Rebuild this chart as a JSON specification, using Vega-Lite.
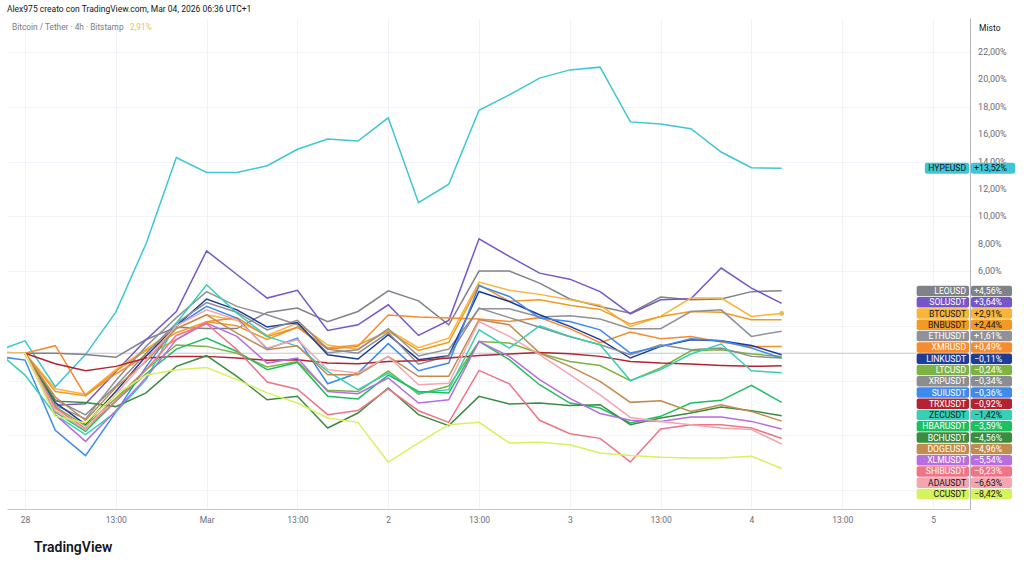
{
"$schema": "https://vega.github.io/schema/vega-lite/v6.json",
"width": 963, "height": 491,
"autosize": {"type": "none"},
"padding": {"left": 7, "top": 18, "right": 54, "bottom": 59},
"background": "#ffffff",
"config": {"view": {"stroke": null}, "font": "Roboto", "text": {"font": "Roboto"}},
"data": {"format": {"parse": {"t": "date"}}, "values": [
{"s":"HYPEUSD","t":"2026-02-27T20:00Z","v":0.1},{"s":"HYPEUSD","t":"2026-02-28T00:00Z","v":0.9},{"s":"HYPEUSD","t":"2026-02-28T04:00Z","v":-2.45},{"s":"HYPEUSD","t":"2026-02-28T08:00Z","v":-0.1},{"s":"HYPEUSD","t":"2026-02-28T12:00Z","v":3.0},{"s":"HYPEUSD","t":"2026-02-28T16:00Z","v":8.0},{"s":"HYPEUSD","t":"2026-02-28T20:00Z","v":14.3},{"s":"HYPEUSD","t":"2026-03-01T00:00Z","v":13.2},{"s":"HYPEUSD","t":"2026-03-01T04:00Z","v":13.2},{"s":"HYPEUSD","t":"2026-03-01T08:00Z","v":13.7},{"s":"HYPEUSD","t":"2026-03-01T12:00Z","v":14.9},{"s":"HYPEUSD","t":"2026-03-01T16:00Z","v":15.65},{"s":"HYPEUSD","t":"2026-03-01T20:00Z","v":15.5},{"s":"HYPEUSD","t":"2026-03-02T00:00Z","v":17.2},{"s":"HYPEUSD","t":"2026-03-02T04:00Z","v":11.0},{"s":"HYPEUSD","t":"2026-03-02T08:00Z","v":12.35},{"s":"HYPEUSD","t":"2026-03-02T12:00Z","v":17.75},{"s":"HYPEUSD","t":"2026-03-02T16:00Z","v":18.87},{"s":"HYPEUSD","t":"2026-03-02T20:00Z","v":20.1},{"s":"HYPEUSD","t":"2026-03-03T00:00Z","v":20.7},{"s":"HYPEUSD","t":"2026-03-03T04:00Z","v":20.9},{"s":"HYPEUSD","t":"2026-03-03T08:00Z","v":16.9},{"s":"HYPEUSD","t":"2026-03-03T12:00Z","v":16.75},{"s":"HYPEUSD","t":"2026-03-03T16:00Z","v":16.4},{"s":"HYPEUSD","t":"2026-03-03T20:00Z","v":14.7},{"s":"HYPEUSD","t":"2026-03-04T00:00Z","v":13.55},{"s":"HYPEUSD","t":"2026-03-04T04:00Z","v":13.52},
{"s":"LEOUSD","t":"2026-02-27T20:00Z","v":0.05},{"s":"LEOUSD","t":"2026-02-28T00:00Z","v":0.0},{"s":"LEOUSD","t":"2026-02-28T04:00Z","v":0.0},{"s":"LEOUSD","t":"2026-02-28T08:00Z","v":-0.1},{"s":"LEOUSD","t":"2026-02-28T12:00Z","v":-0.3},{"s":"LEOUSD","t":"2026-02-28T16:00Z","v":1.0},{"s":"LEOUSD","t":"2026-02-28T20:00Z","v":1.9},{"s":"LEOUSD","t":"2026-03-01T00:00Z","v":1.8},{"s":"LEOUSD","t":"2026-03-01T04:00Z","v":1.8},{"s":"LEOUSD","t":"2026-03-01T08:00Z","v":2.98},{"s":"LEOUSD","t":"2026-03-01T12:00Z","v":3.3},{"s":"LEOUSD","t":"2026-03-01T16:00Z","v":2.3},{"s":"LEOUSD","t":"2026-03-01T20:00Z","v":3.05},{"s":"LEOUSD","t":"2026-03-02T00:00Z","v":4.56},{"s":"LEOUSD","t":"2026-03-02T04:00Z","v":3.83},{"s":"LEOUSD","t":"2026-03-02T08:00Z","v":2.08},{"s":"LEOUSD","t":"2026-03-02T12:00Z","v":6.0},{"s":"LEOUSD","t":"2026-03-02T16:00Z","v":6.0},{"s":"LEOUSD","t":"2026-03-02T20:00Z","v":5.12},{"s":"LEOUSD","t":"2026-03-03T00:00Z","v":3.96},{"s":"LEOUSD","t":"2026-03-03T04:00Z","v":3.42},{"s":"LEOUSD","t":"2026-03-03T08:00Z","v":2.93},{"s":"LEOUSD","t":"2026-03-03T12:00Z","v":4.1},{"s":"LEOUSD","t":"2026-03-03T16:00Z","v":3.9},{"s":"LEOUSD","t":"2026-03-03T20:00Z","v":3.96},{"s":"LEOUSD","t":"2026-03-04T00:00Z","v":4.5},{"s":"LEOUSD","t":"2026-03-04T04:00Z","v":4.56},
{"s":"SOLUSDT","t":"2026-02-27T20:00Z","v":0.1},{"s":"SOLUSDT","t":"2026-02-28T00:00Z","v":0.0},{"s":"SOLUSDT","t":"2026-02-28T04:00Z","v":-3.8},{"s":"SOLUSDT","t":"2026-02-28T08:00Z","v":-3.7},{"s":"SOLUSDT","t":"2026-02-28T12:00Z","v":-1.35},{"s":"SOLUSDT","t":"2026-02-28T16:00Z","v":0.99},{"s":"SOLUSDT","t":"2026-02-28T20:00Z","v":3.05},{"s":"SOLUSDT","t":"2026-03-01T00:00Z","v":7.48},{"s":"SOLUSDT","t":"2026-03-01T04:00Z","v":5.75},{"s":"SOLUSDT","t":"2026-03-01T08:00Z","v":4.03},{"s":"SOLUSDT","t":"2026-03-01T12:00Z","v":4.6},{"s":"SOLUSDT","t":"2026-03-01T16:00Z","v":1.66},{"s":"SOLUSDT","t":"2026-03-01T20:00Z","v":2.08},{"s":"SOLUSDT","t":"2026-03-02T00:00Z","v":3.54},{"s":"SOLUSDT","t":"2026-03-02T04:00Z","v":1.3},{"s":"SOLUSDT","t":"2026-03-02T08:00Z","v":2.4},{"s":"SOLUSDT","t":"2026-03-02T12:00Z","v":8.36},{"s":"SOLUSDT","t":"2026-03-02T16:00Z","v":7.07},{"s":"SOLUSDT","t":"2026-03-02T20:00Z","v":5.85},{"s":"SOLUSDT","t":"2026-03-03T00:00Z","v":5.41},{"s":"SOLUSDT","t":"2026-03-03T04:00Z","v":4.5},{"s":"SOLUSDT","t":"2026-03-03T08:00Z","v":2.88},{"s":"SOLUSDT","t":"2026-03-03T12:00Z","v":3.9},{"s":"SOLUSDT","t":"2026-03-03T16:00Z","v":3.98},{"s":"SOLUSDT","t":"2026-03-03T20:00Z","v":6.22},{"s":"SOLUSDT","t":"2026-03-04T00:00Z","v":4.76},{"s":"SOLUSDT","t":"2026-03-04T04:00Z","v":3.64},
{"s":"BTCUSDT","t":"2026-02-27T20:00Z","v":0.0},{"s":"BTCUSDT","t":"2026-02-28T00:00Z","v":0.0},{"s":"BTCUSDT","t":"2026-02-28T04:00Z","v":-2.6},{"s":"BTCUSDT","t":"2026-02-28T08:00Z","v":-3.0},{"s":"BTCUSDT","t":"2026-02-28T12:00Z","v":-1.2},{"s":"BTCUSDT","t":"2026-02-28T16:00Z","v":0.3},{"s":"BTCUSDT","t":"2026-02-28T20:00Z","v":1.8},{"s":"BTCUSDT","t":"2026-03-01T00:00Z","v":2.8},{"s":"BTCUSDT","t":"2026-03-01T04:00Z","v":2.4},{"s":"BTCUSDT","t":"2026-03-01T08:00Z","v":1.3},{"s":"BTCUSDT","t":"2026-03-01T12:00Z","v":2.2},{"s":"BTCUSDT","t":"2026-03-01T16:00Z","v":0.6},{"s":"BTCUSDT","t":"2026-03-01T20:00Z","v":0.3},{"s":"BTCUSDT","t":"2026-03-02T00:00Z","v":1.7},{"s":"BTCUSDT","t":"2026-03-02T04:00Z","v":0.4},{"s":"BTCUSDT","t":"2026-03-02T08:00Z","v":1.1},{"s":"BTCUSDT","t":"2026-03-02T12:00Z","v":5.2},{"s":"BTCUSDT","t":"2026-03-02T16:00Z","v":4.6},{"s":"BTCUSDT","t":"2026-03-02T20:00Z","v":4.3},{"s":"BTCUSDT","t":"2026-03-03T00:00Z","v":3.9},{"s":"BTCUSDT","t":"2026-03-03T04:00Z","v":3.5},{"s":"BTCUSDT","t":"2026-03-03T08:00Z","v":1.96},{"s":"BTCUSDT","t":"2026-03-03T12:00Z","v":2.69},{"s":"BTCUSDT","t":"2026-03-03T16:00Z","v":4.03},{"s":"BTCUSDT","t":"2026-03-03T20:00Z","v":4.03},{"s":"BTCUSDT","t":"2026-03-04T00:00Z","v":2.69},{"s":"BTCUSDT","t":"2026-03-04T04:00Z","v":2.91},
{"s":"BNBUSDT","t":"2026-02-27T20:00Z","v":0.0},{"s":"BNBUSDT","t":"2026-02-28T00:00Z","v":0.0},{"s":"BNBUSDT","t":"2026-02-28T04:00Z","v":-2.8},{"s":"BNBUSDT","t":"2026-02-28T08:00Z","v":-3.1},{"s":"BNBUSDT","t":"2026-02-28T12:00Z","v":-1.3},{"s":"BNBUSDT","t":"2026-02-28T16:00Z","v":0.2},{"s":"BNBUSDT","t":"2026-02-28T20:00Z","v":1.5},{"s":"BNBUSDT","t":"2026-03-01T00:00Z","v":2.3},{"s":"BNBUSDT","t":"2026-03-01T04:00Z","v":2.0},{"s":"BNBUSDT","t":"2026-03-01T08:00Z","v":1.0},{"s":"BNBUSDT","t":"2026-03-01T12:00Z","v":1.9},{"s":"BNBUSDT","t":"2026-03-01T16:00Z","v":0.4},{"s":"BNBUSDT","t":"2026-03-01T20:00Z","v":0.6},{"s":"BNBUSDT","t":"2026-03-02T00:00Z","v":1.6},{"s":"BNBUSDT","t":"2026-03-02T04:00Z","v":0.2},{"s":"BNBUSDT","t":"2026-03-02T08:00Z","v":0.8},{"s":"BNBUSDT","t":"2026-03-02T12:00Z","v":5.0},{"s":"BNBUSDT","t":"2026-03-02T16:00Z","v":3.8},{"s":"BNBUSDT","t":"2026-03-02T20:00Z","v":3.9},{"s":"BNBUSDT","t":"2026-03-03T00:00Z","v":3.5},{"s":"BNBUSDT","t":"2026-03-03T04:00Z","v":3.2},{"s":"BNBUSDT","t":"2026-03-03T08:00Z","v":2.13},{"s":"BNBUSDT","t":"2026-03-03T12:00Z","v":2.69},{"s":"BNBUSDT","t":"2026-03-03T16:00Z","v":3.05},{"s":"BNBUSDT","t":"2026-03-03T20:00Z","v":3.0},{"s":"BNBUSDT","t":"2026-03-04T00:00Z","v":2.44},{"s":"BNBUSDT","t":"2026-03-04T04:00Z","v":2.44},
{"s":"ETHUSDT","t":"2026-02-27T20:00Z","v":0.0},{"s":"ETHUSDT","t":"2026-02-28T00:00Z","v":0.0},{"s":"ETHUSDT","t":"2026-02-28T04:00Z","v":-3.8},{"s":"ETHUSDT","t":"2026-02-28T08:00Z","v":-4.8},{"s":"ETHUSDT","t":"2026-02-28T12:00Z","v":-2.0},{"s":"ETHUSDT","t":"2026-02-28T16:00Z","v":0.5},{"s":"ETHUSDT","t":"2026-02-28T20:00Z","v":2.6},{"s":"ETHUSDT","t":"2026-03-01T00:00Z","v":4.5},{"s":"ETHUSDT","t":"2026-03-01T04:00Z","v":3.42},{"s":"ETHUSDT","t":"2026-03-01T08:00Z","v":2.81},{"s":"ETHUSDT","t":"2026-03-01T12:00Z","v":2.08},{"s":"ETHUSDT","t":"2026-03-01T16:00Z","v":0.04},{"s":"ETHUSDT","t":"2026-03-01T20:00Z","v":0.26},{"s":"ETHUSDT","t":"2026-03-02T00:00Z","v":1.8},{"s":"ETHUSDT","t":"2026-03-02T04:00Z","v":-0.2},{"s":"ETHUSDT","t":"2026-03-02T08:00Z","v":0.3},{"s":"ETHUSDT","t":"2026-03-02T12:00Z","v":3.25},{"s":"ETHUSDT","t":"2026-03-02T16:00Z","v":3.25},{"s":"ETHUSDT","t":"2026-03-02T20:00Z","v":2.64},{"s":"ETHUSDT","t":"2026-03-03T00:00Z","v":2.74},{"s":"ETHUSDT","t":"2026-03-03T04:00Z","v":2.5},{"s":"ETHUSDT","t":"2026-03-03T08:00Z","v":1.79},{"s":"ETHUSDT","t":"2026-03-03T12:00Z","v":1.79},{"s":"ETHUSDT","t":"2026-03-03T16:00Z","v":3.05},{"s":"ETHUSDT","t":"2026-03-03T20:00Z","v":3.17},{"s":"ETHUSDT","t":"2026-03-04T00:00Z","v":1.23},{"s":"ETHUSDT","t":"2026-03-04T04:00Z","v":1.61},
{"s":"XMRUSD","t":"2026-02-27T20:00Z","v":0.0},{"s":"XMRUSD","t":"2026-02-28T00:00Z","v":0.0},{"s":"XMRUSD","t":"2026-02-28T04:00Z","v":0.55},{"s":"XMRUSD","t":"2026-02-28T08:00Z","v":-3.1},{"s":"XMRUSD","t":"2026-02-28T12:00Z","v":-1.5},{"s":"XMRUSD","t":"2026-02-28T16:00Z","v":-0.2},{"s":"XMRUSD","t":"2026-02-28T20:00Z","v":1.0},{"s":"XMRUSD","t":"2026-03-01T00:00Z","v":2.3},{"s":"XMRUSD","t":"2026-03-01T04:00Z","v":2.6},{"s":"XMRUSD","t":"2026-03-01T08:00Z","v":1.2},{"s":"XMRUSD","t":"2026-03-01T12:00Z","v":1.9},{"s":"XMRUSD","t":"2026-03-01T16:00Z","v":0.3},{"s":"XMRUSD","t":"2026-03-01T20:00Z","v":0.5},{"s":"XMRUSD","t":"2026-03-02T00:00Z","v":2.8},{"s":"XMRUSD","t":"2026-03-02T04:00Z","v":2.64},{"s":"XMRUSD","t":"2026-03-02T08:00Z","v":2.57},{"s":"XMRUSD","t":"2026-03-02T12:00Z","v":2.5},{"s":"XMRUSD","t":"2026-03-02T16:00Z","v":2.32},{"s":"XMRUSD","t":"2026-03-02T20:00Z","v":2.6},{"s":"XMRUSD","t":"2026-03-03T00:00Z","v":1.8},{"s":"XMRUSD","t":"2026-03-03T04:00Z","v":0.77},{"s":"XMRUSD","t":"2026-03-03T08:00Z","v":1.55},{"s":"XMRUSD","t":"2026-03-03T12:00Z","v":1.06},{"s":"XMRUSD","t":"2026-03-03T16:00Z","v":1.23},{"s":"XMRUSD","t":"2026-03-03T20:00Z","v":0.82},{"s":"XMRUSD","t":"2026-03-04T00:00Z","v":0.5},{"s":"XMRUSD","t":"2026-03-04T04:00Z","v":0.49},
{"s":"LINKUSDT","t":"2026-02-27T20:00Z","v":0.0},{"s":"LINKUSDT","t":"2026-02-28T00:00Z","v":0.0},{"s":"LINKUSDT","t":"2026-02-28T04:00Z","v":-3.6},{"s":"LINKUSDT","t":"2026-02-28T08:00Z","v":-5.2},{"s":"LINKUSDT","t":"2026-02-28T12:00Z","v":-2.8},{"s":"LINKUSDT","t":"2026-02-28T16:00Z","v":-0.2},{"s":"LINKUSDT","t":"2026-02-28T20:00Z","v":2.0},{"s":"LINKUSDT","t":"2026-03-01T00:00Z","v":3.96},{"s":"LINKUSDT","t":"2026-03-01T04:00Z","v":3.17},{"s":"LINKUSDT","t":"2026-03-01T08:00Z","v":1.91},{"s":"LINKUSDT","t":"2026-03-01T12:00Z","v":2.25},{"s":"LINKUSDT","t":"2026-03-01T16:00Z","v":-0.11},{"s":"LINKUSDT","t":"2026-03-01T20:00Z","v":-0.42},{"s":"LINKUSDT","t":"2026-03-02T00:00Z","v":1.35},{"s":"LINKUSDT","t":"2026-03-02T04:00Z","v":-0.47},{"s":"LINKUSDT","t":"2026-03-02T08:00Z","v":-0.18},{"s":"LINKUSDT","t":"2026-03-02T12:00Z","v":4.51},{"s":"LINKUSDT","t":"2026-03-02T16:00Z","v":3.78},{"s":"LINKUSDT","t":"2026-03-02T20:00Z","v":2.81},{"s":"LINKUSDT","t":"2026-03-03T00:00Z","v":1.96},{"s":"LINKUSDT","t":"2026-03-03T04:00Z","v":0.99},{"s":"LINKUSDT","t":"2026-03-03T08:00Z","v":-0.35},{"s":"LINKUSDT","t":"2026-03-03T12:00Z","v":0.5},{"s":"LINKUSDT","t":"2026-03-03T16:00Z","v":0.99},{"s":"LINKUSDT","t":"2026-03-03T20:00Z","v":0.91},{"s":"LINKUSDT","t":"2026-03-04T00:00Z","v":0.57},{"s":"LINKUSDT","t":"2026-03-04T04:00Z","v":-0.11},
{"s":"LTCUSD","t":"2026-02-27T20:00Z","v":0.0},{"s":"LTCUSD","t":"2026-02-28T00:00Z","v":0.0},{"s":"LTCUSD","t":"2026-02-28T04:00Z","v":-3.9},{"s":"LTCUSD","t":"2026-02-28T08:00Z","v":-5.3},{"s":"LTCUSD","t":"2026-02-28T12:00Z","v":-3.3},{"s":"LTCUSD","t":"2026-02-28T16:00Z","v":-1.2},{"s":"LTCUSD","t":"2026-02-28T20:00Z","v":0.6},{"s":"LTCUSD","t":"2026-03-01T00:00Z","v":0.5},{"s":"LTCUSD","t":"2026-03-01T04:00Z","v":0.0},{"s":"LTCUSD","t":"2026-03-01T08:00Z","v":-1.0},{"s":"LTCUSD","t":"2026-03-01T12:00Z","v":-0.6},{"s":"LTCUSD","t":"2026-03-01T16:00Z","v":-2.7},{"s":"LTCUSD","t":"2026-03-01T20:00Z","v":-2.8},{"s":"LTCUSD","t":"2026-03-02T00:00Z","v":-1.3},{"s":"LTCUSD","t":"2026-03-02T04:00Z","v":-3.0},{"s":"LTCUSD","t":"2026-03-02T08:00Z","v":-2.4},{"s":"LTCUSD","t":"2026-03-02T12:00Z","v":0.86},{"s":"LTCUSD","t":"2026-03-02T16:00Z","v":0.74},{"s":"LTCUSD","t":"2026-03-02T20:00Z","v":0.0},{"s":"LTCUSD","t":"2026-03-03T00:00Z","v":-0.6},{"s":"LTCUSD","t":"2026-03-03T04:00Z","v":-0.9},{"s":"LTCUSD","t":"2026-03-03T08:00Z","v":-2.0},{"s":"LTCUSD","t":"2026-03-03T12:00Z","v":-1.08},{"s":"LTCUSD","t":"2026-03-03T16:00Z","v":0.18},{"s":"LTCUSD","t":"2026-03-03T20:00Z","v":0.26},{"s":"LTCUSD","t":"2026-03-04T00:00Z","v":-0.06},{"s":"LTCUSD","t":"2026-03-04T04:00Z","v":-0.24},
{"s":"XRPUSDT","t":"2026-02-27T20:00Z","v":0.0},{"s":"XRPUSDT","t":"2026-02-28T00:00Z","v":0.0},{"s":"XRPUSDT","t":"2026-02-28T04:00Z","v":-3.4},{"s":"XRPUSDT","t":"2026-02-28T08:00Z","v":-4.5},{"s":"XRPUSDT","t":"2026-02-28T12:00Z","v":-2.4},{"s":"XRPUSDT","t":"2026-02-28T16:00Z","v":0.0},{"s":"XRPUSDT","t":"2026-02-28T20:00Z","v":2.2},{"s":"XRPUSDT","t":"2026-03-01T00:00Z","v":3.7},{"s":"XRPUSDT","t":"2026-03-01T04:00Z","v":3.0},{"s":"XRPUSDT","t":"2026-03-01T08:00Z","v":1.7},{"s":"XRPUSDT","t":"2026-03-01T12:00Z","v":2.4},{"s":"XRPUSDT","t":"2026-03-01T16:00Z","v":0.3},{"s":"XRPUSDT","t":"2026-03-01T20:00Z","v":0.0},{"s":"XRPUSDT","t":"2026-03-02T00:00Z","v":1.5},{"s":"XRPUSDT","t":"2026-03-02T04:00Z","v":-0.8},{"s":"XRPUSDT","t":"2026-03-02T08:00Z","v":-0.2},{"s":"XRPUSDT","t":"2026-03-02T12:00Z","v":3.3},{"s":"XRPUSDT","t":"2026-03-02T16:00Z","v":2.6},{"s":"XRPUSDT","t":"2026-03-02T20:00Z","v":1.9},{"s":"XRPUSDT","t":"2026-03-03T00:00Z","v":1.2},{"s":"XRPUSDT","t":"2026-03-03T04:00Z","v":0.62},{"s":"XRPUSDT","t":"2026-03-03T08:00Z","v":-0.11},{"s":"XRPUSDT","t":"2026-03-03T12:00Z","v":0.62},{"s":"XRPUSDT","t":"2026-03-03T16:00Z","v":0.26},{"s":"XRPUSDT","t":"2026-03-03T20:00Z","v":0.38},{"s":"XRPUSDT","t":"2026-03-04T00:00Z","v":-0.23},{"s":"XRPUSDT","t":"2026-03-04T04:00Z","v":-0.34},
{"s":"SUIUSDT","t":"2026-02-27T20:00Z","v":-0.2},{"s":"SUIUSDT","t":"2026-02-28T00:00Z","v":-0.5},{"s":"SUIUSDT","t":"2026-02-28T04:00Z","v":-5.63},{"s":"SUIUSDT","t":"2026-02-28T08:00Z","v":-7.48},{"s":"SUIUSDT","t":"2026-02-28T12:00Z","v":-4.3},{"s":"SUIUSDT","t":"2026-02-28T16:00Z","v":-1.0},{"s":"SUIUSDT","t":"2026-02-28T20:00Z","v":2.0},{"s":"SUIUSDT","t":"2026-03-01T00:00Z","v":3.42},{"s":"SUIUSDT","t":"2026-03-01T04:00Z","v":2.57},{"s":"SUIUSDT","t":"2026-03-01T08:00Z","v":0.31},{"s":"SUIUSDT","t":"2026-03-01T12:00Z","v":1.11},{"s":"SUIUSDT","t":"2026-03-01T16:00Z","v":-2.23},{"s":"SUIUSDT","t":"2026-03-01T20:00Z","v":-1.45},{"s":"SUIUSDT","t":"2026-03-02T00:00Z","v":0.7},{"s":"SUIUSDT","t":"2026-03-02T04:00Z","v":-1.28},{"s":"SUIUSDT","t":"2026-03-02T08:00Z","v":-0.72},{"s":"SUIUSDT","t":"2026-03-02T12:00Z","v":4.93},{"s":"SUIUSDT","t":"2026-03-02T16:00Z","v":4.15},{"s":"SUIUSDT","t":"2026-03-02T20:00Z","v":2.57},{"s":"SUIUSDT","t":"2026-03-03T00:00Z","v":2.32},{"s":"SUIUSDT","t":"2026-03-03T04:00Z","v":1.71},{"s":"SUIUSDT","t":"2026-03-03T08:00Z","v":0.01},{"s":"SUIUSDT","t":"2026-03-03T12:00Z","v":0.5},{"s":"SUIUSDT","t":"2026-03-03T16:00Z","v":1.06},{"s":"SUIUSDT","t":"2026-03-03T20:00Z","v":0.91},{"s":"SUIUSDT","t":"2026-03-04T00:00Z","v":0.38},{"s":"SUIUSDT","t":"2026-03-04T04:00Z","v":-0.36},
{"s":"TRXUSDT","t":"2026-02-27T20:00Z","v":0.0},{"s":"TRXUSDT","t":"2026-02-28T00:00Z","v":0.0},{"s":"TRXUSDT","t":"2026-02-28T04:00Z","v":-0.77},{"s":"TRXUSDT","t":"2026-02-28T08:00Z","v":-1.28},{"s":"TRXUSDT","t":"2026-02-28T12:00Z","v":-0.96},{"s":"TRXUSDT","t":"2026-02-28T16:00Z","v":-0.35},{"s":"TRXUSDT","t":"2026-02-28T20:00Z","v":-0.23},{"s":"TRXUSDT","t":"2026-03-01T00:00Z","v":-0.23},{"s":"TRXUSDT","t":"2026-03-01T04:00Z","v":-0.35},{"s":"TRXUSDT","t":"2026-03-01T08:00Z","v":-0.52},{"s":"TRXUSDT","t":"2026-03-01T12:00Z","v":-0.47},{"s":"TRXUSDT","t":"2026-03-01T16:00Z","v":-0.72},{"s":"TRXUSDT","t":"2026-03-01T20:00Z","v":-0.77},{"s":"TRXUSDT","t":"2026-03-02T00:00Z","v":-0.6},{"s":"TRXUSDT","t":"2026-03-02T04:00Z","v":-0.55},{"s":"TRXUSDT","t":"2026-03-02T08:00Z","v":-0.35},{"s":"TRXUSDT","t":"2026-03-02T12:00Z","v":-0.16},{"s":"TRXUSDT","t":"2026-03-02T16:00Z","v":-0.06},{"s":"TRXUSDT","t":"2026-03-02T20:00Z","v":0.06},{"s":"TRXUSDT","t":"2026-03-03T00:00Z","v":-0.04},{"s":"TRXUSDT","t":"2026-03-03T04:00Z","v":-0.23},{"s":"TRXUSDT","t":"2026-03-03T08:00Z","v":-0.6},{"s":"TRXUSDT","t":"2026-03-03T12:00Z","v":-0.72},{"s":"TRXUSDT","t":"2026-03-03T16:00Z","v":-0.79},{"s":"TRXUSDT","t":"2026-03-03T20:00Z","v":-0.89},{"s":"TRXUSDT","t":"2026-03-04T00:00Z","v":-0.96},{"s":"TRXUSDT","t":"2026-03-04T04:00Z","v":-0.92},
{"s":"ZECUSDT","t":"2026-02-27T20:00Z","v":0.3},{"s":"ZECUSDT","t":"2026-02-28T00:00Z","v":-1.6},{"s":"ZECUSDT","t":"2026-02-28T04:00Z","v":-4.5},{"s":"ZECUSDT","t":"2026-02-28T08:00Z","v":-5.95},{"s":"ZECUSDT","t":"2026-02-28T12:00Z","v":-4.3},{"s":"ZECUSDT","t":"2026-02-28T16:00Z","v":-1.93},{"s":"ZECUSDT","t":"2026-02-28T20:00Z","v":2.2},{"s":"ZECUSDT","t":"2026-03-01T00:00Z","v":5.0},{"s":"ZECUSDT","t":"2026-03-01T04:00Z","v":2.93},{"s":"ZECUSDT","t":"2026-03-01T08:00Z","v":1.23},{"s":"ZECUSDT","t":"2026-03-01T12:00Z","v":0.5},{"s":"ZECUSDT","t":"2026-03-01T16:00Z","v":-1.33},{"s":"ZECUSDT","t":"2026-03-01T20:00Z","v":-2.66},{"s":"ZECUSDT","t":"2026-03-02T00:00Z","v":-1.45},{"s":"ZECUSDT","t":"2026-03-02T04:00Z","v":-2.9},{"s":"ZECUSDT","t":"2026-03-02T08:00Z","v":-2.66},{"s":"ZECUSDT","t":"2026-03-02T12:00Z","v":1.71},{"s":"ZECUSDT","t":"2026-03-02T16:00Z","v":0.38},{"s":"ZECUSDT","t":"2026-03-02T20:00Z","v":2.0},{"s":"ZECUSDT","t":"2026-03-03T00:00Z","v":1.23},{"s":"ZECUSDT","t":"2026-03-03T04:00Z","v":0.62},{"s":"ZECUSDT","t":"2026-03-03T08:00Z","v":-2.0},{"s":"ZECUSDT","t":"2026-03-03T12:00Z","v":-1.2},{"s":"ZECUSDT","t":"2026-03-03T16:00Z","v":-0.06},{"s":"ZECUSDT","t":"2026-03-03T20:00Z","v":0.67},{"s":"ZECUSDT","t":"2026-03-04T00:00Z","v":-1.28},{"s":"ZECUSDT","t":"2026-03-04T04:00Z","v":-1.42},
{"s":"HBARUSDT","t":"2026-02-27T20:00Z","v":0.0},{"s":"HBARUSDT","t":"2026-02-28T00:00Z","v":0.0},{"s":"HBARUSDT","t":"2026-02-28T04:00Z","v":-4.3},{"s":"HBARUSDT","t":"2026-02-28T08:00Z","v":-5.7},{"s":"HBARUSDT","t":"2026-02-28T12:00Z","v":-3.5},{"s":"HBARUSDT","t":"2026-02-28T16:00Z","v":-1.5},{"s":"HBARUSDT","t":"2026-02-28T20:00Z","v":0.3},{"s":"HBARUSDT","t":"2026-03-01T00:00Z","v":1.11},{"s":"HBARUSDT","t":"2026-03-01T04:00Z","v":0.13},{"s":"HBARUSDT","t":"2026-03-01T08:00Z","v":-1.2},{"s":"HBARUSDT","t":"2026-03-01T12:00Z","v":-0.67},{"s":"HBARUSDT","t":"2026-03-01T16:00Z","v":-3.15},{"s":"HBARUSDT","t":"2026-03-01T20:00Z","v":-3.34},{"s":"HBARUSDT","t":"2026-03-02T00:00Z","v":-1.6},{"s":"HBARUSDT","t":"2026-03-02T04:00Z","v":-2.79},{"s":"HBARUSDT","t":"2026-03-02T08:00Z","v":-2.9},{"s":"HBARUSDT","t":"2026-03-02T12:00Z","v":0.86},{"s":"HBARUSDT","t":"2026-03-02T16:00Z","v":-0.47},{"s":"HBARUSDT","t":"2026-03-02T20:00Z","v":-2.3},{"s":"HBARUSDT","t":"2026-03-03T00:00Z","v":-3.64},{"s":"HBARUSDT","t":"2026-03-03T04:00Z","v":-4.0},{"s":"HBARUSDT","t":"2026-03-03T08:00Z","v":-5.1},{"s":"HBARUSDT","t":"2026-03-03T12:00Z","v":-4.61},{"s":"HBARUSDT","t":"2026-03-03T16:00Z","v":-3.64},{"s":"HBARUSDT","t":"2026-03-03T20:00Z","v":-3.44},{"s":"HBARUSDT","t":"2026-03-04T00:00Z","v":-2.35},{"s":"HBARUSDT","t":"2026-03-04T04:00Z","v":-3.59},
{"s":"BCHUSDT","t":"2026-02-27T20:00Z","v":0.0},{"s":"BCHUSDT","t":"2026-02-28T00:00Z","v":0.0},{"s":"BCHUSDT","t":"2026-02-28T04:00Z","v":-3.5},{"s":"BCHUSDT","t":"2026-02-28T08:00Z","v":-3.6},{"s":"BCHUSDT","t":"2026-02-28T12:00Z","v":-3.9},{"s":"BCHUSDT","t":"2026-02-28T16:00Z","v":-2.9},{"s":"BCHUSDT","t":"2026-02-28T20:00Z","v":-0.96},{"s":"BCHUSDT","t":"2026-03-01T00:00Z","v":-0.18},{"s":"BCHUSDT","t":"2026-03-01T04:00Z","v":-1.69},{"s":"BCHUSDT","t":"2026-03-01T08:00Z","v":-3.4},{"s":"BCHUSDT","t":"2026-03-01T12:00Z","v":-3.15},{"s":"BCHUSDT","t":"2026-03-01T16:00Z","v":-5.46},{"s":"BCHUSDT","t":"2026-03-01T20:00Z","v":-4.37},{"s":"BCHUSDT","t":"2026-03-02T00:00Z","v":-2.54},{"s":"BCHUSDT","t":"2026-03-02T04:00Z","v":-4.49},{"s":"BCHUSDT","t":"2026-03-02T08:00Z","v":-5.29},{"s":"BCHUSDT","t":"2026-03-02T12:00Z","v":-3.15},{"s":"BCHUSDT","t":"2026-03-02T16:00Z","v":-3.71},{"s":"BCHUSDT","t":"2026-03-02T20:00Z","v":-3.64},{"s":"BCHUSDT","t":"2026-03-03T00:00Z","v":-3.81},{"s":"BCHUSDT","t":"2026-03-03T04:00Z","v":-3.76},{"s":"BCHUSDT","t":"2026-03-03T08:00Z","v":-5.22},{"s":"BCHUSDT","t":"2026-03-03T12:00Z","v":-4.73},{"s":"BCHUSDT","t":"2026-03-03T16:00Z","v":-4.37},{"s":"BCHUSDT","t":"2026-03-03T20:00Z","v":-3.93},{"s":"BCHUSDT","t":"2026-03-04T00:00Z","v":-4.2},{"s":"BCHUSDT","t":"2026-03-04T04:00Z","v":-4.56},
{"s":"DOGEUSD","t":"2026-02-27T20:00Z","v":0.0},{"s":"DOGEUSD","t":"2026-02-28T00:00Z","v":0.0},{"s":"DOGEUSD","t":"2026-02-28T04:00Z","v":-3.2},{"s":"DOGEUSD","t":"2026-02-28T08:00Z","v":-4.9},{"s":"DOGEUSD","t":"2026-02-28T12:00Z","v":-2.5},{"s":"DOGEUSD","t":"2026-02-28T16:00Z","v":-0.6},{"s":"DOGEUSD","t":"2026-02-28T20:00Z","v":1.8},{"s":"DOGEUSD","t":"2026-03-01T00:00Z","v":2.8},{"s":"DOGEUSD","t":"2026-03-01T04:00Z","v":1.47},{"s":"DOGEUSD","t":"2026-03-01T08:00Z","v":0.26},{"s":"DOGEUSD","t":"2026-03-01T12:00Z","v":0.55},{"s":"DOGEUSD","t":"2026-03-01T16:00Z","v":-1.57},{"s":"DOGEUSD","t":"2026-03-01T20:00Z","v":-1.57},{"s":"DOGEUSD","t":"2026-03-02T00:00Z","v":-0.23},{"s":"DOGEUSD","t":"2026-03-02T04:00Z","v":-1.69},{"s":"DOGEUSD","t":"2026-03-02T08:00Z","v":-1.69},{"s":"DOGEUSD","t":"2026-03-02T12:00Z","v":2.45},{"s":"DOGEUSD","t":"2026-03-02T16:00Z","v":2.08},{"s":"DOGEUSD","t":"2026-03-02T20:00Z","v":0.01},{"s":"DOGEUSD","t":"2026-03-03T00:00Z","v":-0.96},{"s":"DOGEUSD","t":"2026-03-03T04:00Z","v":-2.06},{"s":"DOGEUSD","t":"2026-03-03T08:00Z","v":-3.59},{"s":"DOGEUSD","t":"2026-03-03T12:00Z","v":-3.47},{"s":"DOGEUSD","t":"2026-03-03T16:00Z","v":-4.25},{"s":"DOGEUSD","t":"2026-03-03T20:00Z","v":-3.76},{"s":"DOGEUSD","t":"2026-03-04T00:00Z","v":-4.25},{"s":"DOGEUSD","t":"2026-03-04T04:00Z","v":-4.96},
{"s":"XLMUSDT","t":"2026-02-27T20:00Z","v":0.0},{"s":"XLMUSDT","t":"2026-02-28T00:00Z","v":0.0},{"s":"XLMUSDT","t":"2026-02-28T04:00Z","v":-4.5},{"s":"XLMUSDT","t":"2026-02-28T08:00Z","v":-6.44},{"s":"XLMUSDT","t":"2026-02-28T12:00Z","v":-4.2},{"s":"XLMUSDT","t":"2026-02-28T16:00Z","v":-1.8},{"s":"XLMUSDT","t":"2026-02-28T20:00Z","v":1.0},{"s":"XLMUSDT","t":"2026-03-01T00:00Z","v":2.2},{"s":"XLMUSDT","t":"2026-03-01T04:00Z","v":1.23},{"s":"XLMUSDT","t":"2026-03-01T08:00Z","v":-0.72},{"s":"XLMUSDT","t":"2026-03-01T12:00Z","v":-0.35},{"s":"XLMUSDT","t":"2026-03-01T16:00Z","v":-2.79},{"s":"XLMUSDT","t":"2026-03-01T20:00Z","v":-2.96},{"s":"XLMUSDT","t":"2026-03-02T00:00Z","v":-1.81},{"s":"XLMUSDT","t":"2026-03-02T04:00Z","v":-3.64},{"s":"XLMUSDT","t":"2026-03-02T08:00Z","v":-3.4},{"s":"XLMUSDT","t":"2026-03-02T12:00Z","v":0.86},{"s":"XLMUSDT","t":"2026-03-02T16:00Z","v":-0.23},{"s":"XLMUSDT","t":"2026-03-02T20:00Z","v":-1.93},{"s":"XLMUSDT","t":"2026-03-03T00:00Z","v":-3.3},{"s":"XLMUSDT","t":"2026-03-03T04:00Z","v":-4.4},{"s":"XLMUSDT","t":"2026-03-03T08:00Z","v":-4.9},{"s":"XLMUSDT","t":"2026-03-03T12:00Z","v":-4.98},{"s":"XLMUSDT","t":"2026-03-03T16:00Z","v":-4.66},{"s":"XLMUSDT","t":"2026-03-03T20:00Z","v":-4.66},{"s":"XLMUSDT","t":"2026-03-04T00:00Z","v":-4.98},{"s":"XLMUSDT","t":"2026-03-04T04:00Z","v":-5.54},
{"s":"SHIBUSDT","t":"2026-02-27T20:00Z","v":0.0},{"s":"SHIBUSDT","t":"2026-02-28T00:00Z","v":0.0},{"s":"SHIBUSDT","t":"2026-02-28T04:00Z","v":-4.0},{"s":"SHIBUSDT","t":"2026-02-28T08:00Z","v":-5.5},{"s":"SHIBUSDT","t":"2026-02-28T12:00Z","v":-3.5},{"s":"SHIBUSDT","t":"2026-02-28T16:00Z","v":-1.2},{"s":"SHIBUSDT","t":"2026-02-28T20:00Z","v":1.3},{"s":"SHIBUSDT","t":"2026-03-01T00:00Z","v":2.15},{"s":"SHIBUSDT","t":"2026-03-01T04:00Z","v":0.26},{"s":"SHIBUSDT","t":"2026-03-01T08:00Z","v":-2.1},{"s":"SHIBUSDT","t":"2026-03-01T12:00Z","v":-2.63},{"s":"SHIBUSDT","t":"2026-03-01T16:00Z","v":-4.49},{"s":"SHIBUSDT","t":"2026-03-01T20:00Z","v":-4.19},{"s":"SHIBUSDT","t":"2026-03-02T00:00Z","v":-2.6},{"s":"SHIBUSDT","t":"2026-03-02T04:00Z","v":-4.2},{"s":"SHIBUSDT","t":"2026-03-02T08:00Z","v":-5.05},{"s":"SHIBUSDT","t":"2026-03-02T12:00Z","v":-1.25},{"s":"SHIBUSDT","t":"2026-03-02T16:00Z","v":-2.23},{"s":"SHIBUSDT","t":"2026-03-02T20:00Z","v":-4.9},{"s":"SHIBUSDT","t":"2026-03-03T00:00Z","v":-5.88},{"s":"SHIBUSDT","t":"2026-03-03T04:00Z","v":-6.22},{"s":"SHIBUSDT","t":"2026-03-03T08:00Z","v":-7.94},{"s":"SHIBUSDT","t":"2026-03-03T12:00Z","v":-5.53},{"s":"SHIBUSDT","t":"2026-03-03T16:00Z","v":-5.22},{"s":"SHIBUSDT","t":"2026-03-03T20:00Z","v":-5.22},{"s":"SHIBUSDT","t":"2026-03-04T00:00Z","v":-5.46},{"s":"SHIBUSDT","t":"2026-03-04T04:00Z","v":-6.23},
{"s":"ADAUSDT","t":"2026-02-27T20:00Z","v":0.0},{"s":"ADAUSDT","t":"2026-02-28T00:00Z","v":0.0},{"s":"ADAUSDT","t":"2026-02-28T04:00Z","v":-4.2},{"s":"ADAUSDT","t":"2026-02-28T08:00Z","v":-5.6},{"s":"ADAUSDT","t":"2026-02-28T12:00Z","v":-3.0},{"s":"ADAUSDT","t":"2026-02-28T16:00Z","v":-0.5},{"s":"ADAUSDT","t":"2026-02-28T20:00Z","v":2.0},{"s":"ADAUSDT","t":"2026-03-01T00:00Z","v":3.17},{"s":"ADAUSDT","t":"2026-03-01T04:00Z","v":2.45},{"s":"ADAUSDT","t":"2026-03-01T08:00Z","v":0.38},{"s":"ADAUSDT","t":"2026-03-01T12:00Z","v":0.99},{"s":"ADAUSDT","t":"2026-03-01T16:00Z","v":-1.2},{"s":"ADAUSDT","t":"2026-03-01T20:00Z","v":-1.45},{"s":"ADAUSDT","t":"2026-03-02T00:00Z","v":-0.23},{"s":"ADAUSDT","t":"2026-03-02T04:00Z","v":-2.3},{"s":"ADAUSDT","t":"2026-03-02T08:00Z","v":-2.2},{"s":"ADAUSDT","t":"2026-03-02T12:00Z","v":2.32},{"s":"ADAUSDT","t":"2026-03-02T16:00Z","v":1.23},{"s":"ADAUSDT","t":"2026-03-02T20:00Z","v":-0.11},{"s":"ADAUSDT","t":"2026-03-03T00:00Z","v":-1.57},{"s":"ADAUSDT","t":"2026-03-03T04:00Z","v":-3.05},{"s":"ADAUSDT","t":"2026-03-03T08:00Z","v":-4.69},{"s":"ADAUSDT","t":"2026-03-03T12:00Z","v":-4.98},{"s":"ADAUSDT","t":"2026-03-03T16:00Z","v":-5.22},{"s":"ADAUSDT","t":"2026-03-03T20:00Z","v":-5.46},{"s":"ADAUSDT","t":"2026-03-04T00:00Z","v":-5.58},{"s":"ADAUSDT","t":"2026-03-04T04:00Z","v":-6.63},
{"s":"CCUSDT","t":"2026-02-27T20:00Z","v":0.0},{"s":"CCUSDT","t":"2026-02-28T00:00Z","v":0.0},{"s":"CCUSDT","t":"2026-02-28T04:00Z","v":-4.6},{"s":"CCUSDT","t":"2026-02-28T08:00Z","v":-5.1},{"s":"CCUSDT","t":"2026-02-28T12:00Z","v":-3.0},{"s":"CCUSDT","t":"2026-02-28T16:00Z","v":-1.6},{"s":"CCUSDT","t":"2026-02-28T20:00Z","v":-1.2},{"s":"CCUSDT","t":"2026-03-01T00:00Z","v":-1.05},{"s":"CCUSDT","t":"2026-03-01T04:00Z","v":-1.93},{"s":"CCUSDT","t":"2026-03-01T08:00Z","v":-2.9},{"s":"CCUSDT","t":"2026-03-01T12:00Z","v":-3.64},{"s":"CCUSDT","t":"2026-03-01T16:00Z","v":-4.73},{"s":"CCUSDT","t":"2026-03-01T20:00Z","v":-5.05},{"s":"CCUSDT","t":"2026-03-02T00:00Z","v":-7.97},{"s":"CCUSDT","t":"2026-03-02T04:00Z","v":-6.55},{"s":"CCUSDT","t":"2026-03-02T08:00Z","v":-5.22},{"s":"CCUSDT","t":"2026-03-02T12:00Z","v":-5.05},{"s":"CCUSDT","t":"2026-03-02T16:00Z","v":-6.55},{"s":"CCUSDT","t":"2026-03-02T20:00Z","v":-6.5},{"s":"CCUSDT","t":"2026-03-03T00:00Z","v":-6.68},{"s":"CCUSDT","t":"2026-03-03T04:00Z","v":-7.29},{"s":"CCUSDT","t":"2026-03-03T08:00Z","v":-7.48},{"s":"CCUSDT","t":"2026-03-03T12:00Z","v":-7.6},{"s":"CCUSDT","t":"2026-03-03T16:00Z","v":-7.65},{"s":"CCUSDT","t":"2026-03-03T20:00Z","v":-7.65},{"s":"CCUSDT","t":"2026-03-04T00:00Z","v":-7.53},{"s":"CCUSDT","t":"2026-03-04T04:00Z","v":-8.42}
]},
"layer": [
{
"layer": [
{"data": {"values": [{}]},
 "mark": {"type": "rule", "color": "#c3c6cd", "strokeWidth": 1},
 "encoding": {"y": {"datum": 0, "type": "quantitative"}}},
{"mark": {"type": "line", "strokeWidth": 1.5, "clip": true},
 "encoding": {
  "x": {"field": "t", "type": "temporal",
   "scale": {"type": "utc", "domain": [{"year": 2026, "month": 2, "date": 27, "hours": 21, "minutes": 37, "seconds": 17, "utc": true}, {"year": 2026, "month": 3, "date": 5, "hours": 4, "minutes": 53, "utc": true}]},
   "axis": {"orient": "bottom", "title": null, "grid": true, "gridColor": "#f0f3fa", "domainColor": "#c5c8ce", "ticks": false, "labelColor": "#6a6d78", "labelFontSize": 8.5, "labelPadding": 6, "labelFont": "Roboto", "labelOverlap": false,
    "values": [{"year": 2026, "month": 2, "date": 28, "hours": 0, "utc": true}, {"year": 2026, "month": 2, "date": 28, "hours": 12, "utc": true}, {"year": 2026, "month": 3, "date": 1, "hours": 0, "utc": true}, {"year": 2026, "month": 3, "date": 1, "hours": 12, "utc": true}, {"year": 2026, "month": 3, "date": 2, "hours": 0, "utc": true}, {"year": 2026, "month": 3, "date": 2, "hours": 12, "utc": true}, {"year": 2026, "month": 3, "date": 3, "hours": 0, "utc": true}, {"year": 2026, "month": 3, "date": 3, "hours": 12, "utc": true}, {"year": 2026, "month": 3, "date": 4, "hours": 0, "utc": true}, {"year": 2026, "month": 3, "date": 4, "hours": 12, "utc": true}, {"year": 2026, "month": 3, "date": 5, "hours": 0, "utc": true}],
    "labelExpr": "utchours(datum.value) == 12 ? '13:00' : (utcdate(datum.value) == 1 ? 'Mar' : '' + utcdate(datum.value))"}},
  "y": {"field": "v", "type": "quantitative",
   "scale": {"domain": [-11.38, 24.49], "nice": false, "zero": false},
   "axis": {"orient": "right", "title": null, "grid": true, "gridColor": "#f0f3fa", "domainColor": "#b2b5be", "ticks": false, "labels": false,
    "values": [-10, -8, -6, -4, -2, 0, 2, 4, 6, 8, 10, 12, 14, 16, 18, 20, 22]}},
  "color": {"field": "s", "type": "nominal", "legend": null,
   "scale": {"domain": ["HYPEUSD", "LEOUSD", "SOLUSDT", "BTCUSDT", "BNBUSDT", "ETHUSDT", "XMRUSD", "LINKUSDT", "LTCUSD", "XRPUSDT", "SUIUSDT", "TRXUSDT", "ZECUSDT", "HBARUSDT", "BCHUSDT", "DOGEUSD", "XLMUSDT", "SHIBUSDT", "ADAUSDT", "CCUSDT"],
    "range": ["#3ec6d6", "#808289", "#7656c8", "#f9b43a", "#f29a24", "#909297", "#f78b2d", "#1e3d96", "#7cb342", "#8b8d93", "#3d8bef", "#b42331", "#35d0b5", "#1dbf5e", "#3a8c3f", "#c28b4f", "#b66ee0", "#f07487", "#f3a6b0", "#d6f25c"]}}
 }},
{"data": {"values": [{"p": 6}, {"p": 8}, {"p": 10}, {"p": 12}, {"p": 14}, {"p": 16}, {"p": 18}, {"p": 20}, {"p": 22}]},
 "transform": [{"calculate": "replace(format(datum.p, '.2f'), '.', ',') + '%'", "as": "pl"}],
 "mark": {"type": "text", "align": "left", "baseline": "middle", "fontSize": 9, "color": "#6a6d78"},
 "encoding": {"x": {"datum": {"year": 2026, "month": 3, "date": 5, "hours": 5, "minutes": 57, "utc": true}, "type": "temporal"},
  "y": {"field": "p", "type": "quantitative"}, "text": {"field": "pl"}}},
{"transform": [{"filter": "datum.s === 'BTCUSDT' && utcdate(datum.t) === 4 && utchours(datum.t) === 4"}],
 "mark": {"type": "circle", "size": 22, "opacity": 1},
 "encoding": {"x": {"field": "t", "type": "temporal"}, "y": {"field": "v", "type": "quantitative"}, "color": {"field": "s", "type": "nominal"}}},
{"transform": [{"filter": "datum.s === 'HYPEUSD' && utcdate(datum.t) === 4 && utchours(datum.t) === 4"}],
 "mark": {"type": "rect", "height": 11, "cornerRadius": 2},
 "encoding": {"x": {"datum": {"year": 2026, "month": 3, "date": 4, "hours": 22, "minutes": 55, "utc": true}, "type": "temporal"},
  "x2": {"datum": {"year": 2026, "month": 3, "date": 5, "hours": 4, "minutes": 46, "utc": true}},
  "y": {"field": "v", "type": "quantitative"}, "color": {"field": "s", "type": "nominal"}}},
{"transform": [{"filter": "datum.s === 'HYPEUSD' && utcdate(datum.t) === 4 && utchours(datum.t) === 4"}],
 "mark": {"type": "rect", "height": 11, "cornerRadius": 2},
 "encoding": {"x": {"datum": {"year": 2026, "month": 3, "date": 5, "hours": 5, "minutes": 1, "utc": true}, "type": "temporal"},
  "x2": {"datum": {"year": 2026, "month": 3, "date": 5, "hours": 10, "minutes": 50, "utc": true}},
  "y": {"field": "v", "type": "quantitative"}, "color": {"field": "s", "type": "nominal"}}},
{"transform": [{"filter": "datum.s === 'HYPEUSD' && utcdate(datum.t) === 4 && utchours(datum.t) === 4"}],
 "mark": {"type": "text", "align": "right", "baseline": "middle", "fontSize": 8.6, "color": "#131722"},
 "encoding": {"x": {"datum": {"year": 2026, "month": 3, "date": 5, "hours": 4, "minutes": 22, "utc": true}, "type": "temporal"},
  "y": {"field": "v", "type": "quantitative"}, "text": {"field": "s"}}},
{"transform": [{"filter": "datum.s === 'HYPEUSD' && utcdate(datum.t) === 4 && utchours(datum.t) === 4"},
  {"calculate": "(datum.v >= 0 ? '+' : '−') + replace(format(abs(datum.v), '.2f'), '.', ',') + '%'", "as": "lab"}],
 "mark": {"type": "text", "align": "left", "baseline": "middle", "fontSize": 8.8, "color": "#131722"},
 "encoding": {"x": {"datum": {"year": 2026, "month": 3, "date": 5, "hours": 5, "minutes": 25, "utc": true}, "type": "temporal"},
  "y": {"field": "v", "type": "quantitative"}, "text": {"field": "lab"}}},
{"data": {"values": [{}]},
 "mark": {"type": "text", "text": "Alex975 creato con TradingView.com, Mar 04, 2026 06:36 UTC+1", "align": "left", "baseline": "middle", "fontSize": 8.5, "color": "#131722"},
 "encoding": {"x": {"datum": {"year": 2026, "month": 2, "date": 27, "hours": 21, "minutes": 37, "seconds": 17, "utc": true}, "type": "temporal"}, "y": {"datum": 25.15, "type": "quantitative"}}},
{"data": {"values": [{}]},
 "mark": {"type": "text", "text": "Bitcoin / Tether · 4h · Bitstamp", "align": "left", "baseline": "middle", "fontSize": 8.3, "color": "#787b86"},
 "encoding": {"x": {"datum": {"year": 2026, "month": 2, "date": 27, "hours": 22, "minutes": 17, "utc": true}, "type": "temporal"}, "y": {"datum": 23.76, "type": "quantitative"}}},
{"data": {"values": [{}]},
 "mark": {"type": "text", "text": "2,91%", "align": "left", "baseline": "middle", "fontSize": 8.3, "color": "#f5c04a"},
 "encoding": {"x": {"datum": {"year": 2026, "month": 2, "date": 28, "hours": 13, "minutes": 53, "utc": true}, "type": "temporal"}, "y": {"datum": 23.76, "type": "quantitative"}}},
{"data": {"values": [{}]},
 "mark": {"type": "text", "text": "Misto", "align": "left", "baseline": "middle", "fontSize": 8.5, "color": "#131722"},
 "encoding": {"x": {"datum": {"year": 2026, "month": 3, "date": 5, "hours": 6, "minutes": 5, "utc": true}, "type": "temporal"}, "y": {"datum": 23.76, "type": "quantitative"}}},
{"data": {"values": [{}]},
 "mark": {"type": "text", "text": "TradingView", "align": "left", "baseline": "middle", "fontSize": 14, "fontWeight": 600, "color": "#131722"},
 "encoding": {"x": {"datum": {"year": 2026, "month": 2, "date": 28, "hours": 1, "minutes": 12, "utc": true}, "type": "temporal"}, "y": {"datum": -14.2, "type": "quantitative"}}}
]
},
{
"transform": [{"filter": "datum.s !== 'HYPEUSD' && utcdate(datum.t) === 4 && utchours(datum.t) === 4"},
 {"calculate": "(datum.v >= 0 ? '+' : '−') + replace(format(abs(datum.v), '.2f'), '.', ',') + '%'", "as": "lab"}],
"encoding": {
 "y": {"field": "s", "type": "nominal", "axis": null,
  "scale": {"type": "point", "padding": 0, "range": [273, 476],
   "domain": ["LEOUSD", "SOLUSDT", "BTCUSDT", "BNBUSDT", "ETHUSDT", "XMRUSD", "LINKUSDT", "LTCUSD", "XRPUSDT", "SUIUSDT", "TRXUSDT", "ZECUSDT", "HBARUSDT", "BCHUSDT", "DOGEUSD", "XLMUSDT", "SHIBUSDT", "ADAUSDT", "CCUSDT"]}}
},
"layer": [
{"mark": {"type": "rect", "height": 10.5, "cornerRadius": 2},
 "encoding": {"x": {"datum": {"year": 2026, "month": 3, "date": 4, "hours": 21, "minutes": 50, "utc": true}, "type": "temporal"},
  "x2": {"datum": {"year": 2026, "month": 3, "date": 5, "hours": 4, "minutes": 46, "utc": true}},
  "color": {"field": "s", "type": "nominal"}}},
{"mark": {"type": "rect", "height": 10.5, "cornerRadius": 2},
 "encoding": {"x": {"datum": {"year": 2026, "month": 3, "date": 5, "hours": 5, "minutes": 1, "utc": true}, "type": "temporal"},
  "x2": {"datum": {"year": 2026, "month": 3, "date": 5, "hours": 10, "minutes": 26, "utc": true}},
  "color": {"field": "s", "type": "nominal"}}},
{"mark": {"type": "text", "align": "right", "baseline": "middle", "fontSize": 8.6},
 "encoding": {"x": {"datum": {"year": 2026, "month": 3, "date": 5, "hours": 4, "minutes": 22, "utc": true}, "type": "temporal"},
  "text": {"field": "s"},
  "color": {"condition": {"test": "indexof(['BTCUSDT','BNBUSDT','ZECUSDT','ADAUSDT','CCUSDT'], datum.s) >= 0", "value": "#131722"}, "value": "#ffffff"}}},
{"mark": {"type": "text", "align": "left", "baseline": "middle", "fontSize": 8.8},
 "encoding": {"x": {"datum": {"year": 2026, "month": 3, "date": 5, "hours": 5, "minutes": 25, "utc": true}, "type": "temporal"},
  "text": {"field": "lab"},
  "color": {"condition": {"test": "indexof(['BTCUSDT','BNBUSDT','ZECUSDT','ADAUSDT','CCUSDT'], datum.s) >= 0", "value": "#131722"}, "value": "#ffffff"}}}
]
}
],
"resolve": {"scale": {"y": "independent"}}
}
